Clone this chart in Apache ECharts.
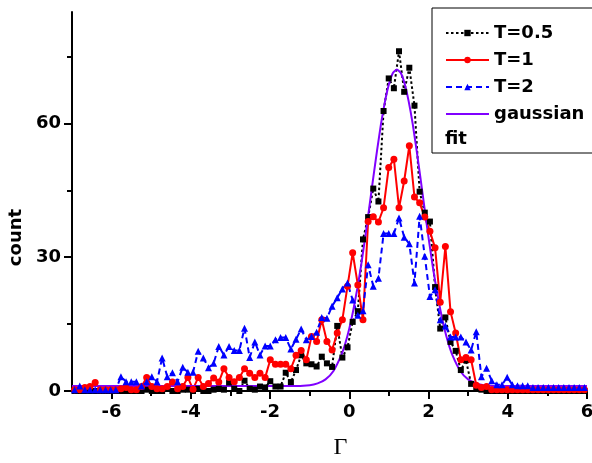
<!DOCTYPE html>
<html><head><meta charset="utf-8">
<script src="https://cdn.jsdelivr.net/npm/echarts@6/dist/echarts.min.js"></script>
<style>html,body{margin:0;padding:0;background:#fff}#c{width:592px;height:463px}</style>
</head><body><div id="c"></div>
<script>
// bin centres (Gamma)
const xBins = [-6.935,-6.805,-6.675,-6.545,-6.415,-6.285,-6.155,-6.025,-5.895,-5.765,
-5.635,-5.505,-5.375,-5.245,-5.115,-4.985,-4.855,-4.725,-4.595,-4.465,
-4.335,-4.205,-4.075,-3.945,-3.815,-3.685,-3.555,-3.425,-3.295,-3.165,
-3.035,-2.905,-2.775,-2.645,-2.515,-2.385,-2.255,-2.125,-1.995,-1.865,
-1.735,-1.605,-1.475,-1.345,-1.215,-1.085,-0.955,-0.825,-0.695,-0.565,
-0.435,-0.305,-0.175,-0.045,0.085,0.215,0.345,0.475,0.605,0.735,
0.865,0.995,1.125,1.255,1.385,1.515,1.645,1.775,1.905,2.035,
2.165,2.295,2.425,2.555,2.685,2.815,2.945,3.075,3.205,3.335,
3.465,3.595,3.725,3.855,3.985,4.115,4.245,4.375,4.505,4.635,
4.765,4.895,5.025,5.155,5.285,5.415,5.545,5.675,5.805,5.935];
// T=0.5 counts
const t05 = [0,0,0,0,0,0,0,0,0,0,
0,0,0,0,0.3,0,0,0,0.5,0,
0,0.3,0.3,0,0.5,0,0,0.3,0.5,0.3,
1.9,0.5,0,2.3,0.5,0.3,1.0,0.8,2.2,1.0,
1.0,4.1,2.0,4.7,8.0,6.2,6.0,5.5,7.7,6.2,
5.4,14.6,7.5,9.8,15.5,17.9,34,39,45.4,42.5,
62.8,70.1,67.9,76.2,67.1,72.5,64,44.7,40,38,
23.3,14,16.5,11,9,4.7,6.9,1.6,0.8,0.3,
0,0,0,0,0,0,0,0,0,0,
0,0,0,0,0,0,0,0,0,0];
// T=1 counts
const t1 = [0.3,0.3,0.8,1.0,1.9,0.3,0.3,0.3,0.3,0.5,
0.8,0.3,0.3,1.0,3.0,1.0,0.5,0.5,1.0,2.0,
0.5,1.0,3.0,0.4,3.0,1.0,1.7,2.9,2.0,5.0,
3.0,2.1,3.0,5.0,4.0,3.0,4.0,3.0,7.0,6.0,
6.0,6.0,5.0,8.0,9.1,7.0,12.2,11.1,16.0,11.1,
9.2,13.0,16.0,23.5,31.0,23.8,16.0,38.0,39.1,37.9,
41.1,50.1,52.0,41.1,47.1,55.0,43.5,42.2,39.0,35.8,
32.1,19.9,32.4,17.8,13.0,7.0,7.5,7.0,1.3,0.8,
1.0,0.3,0.3,0.3,0.3,0.3,0.3,0.3,0.3,0.3,
0.3,0.3,0.3,0.3,0.3,0.3,0.3,0.3,0.3,0.3];
// T=2 counts
const t2 = [0.3,1.1,0.3,0.3,0.3,0.3,0.3,0.3,0.3,3.2,
2.1,2.1,2.1,1.1,2.1,3.2,2.1,7.4,3.2,4.1,
2.1,5.3,4.2,4.2,8.9,7.4,5.2,6.2,10.0,8.1,
10.0,9.1,9.1,14.1,7.5,11.0,8.1,10.1,10.1,11.5,
12.0,12.0,9.4,11.6,13.9,11.5,12.2,13.2,16.5,16.3,
19.0,20.9,22.9,24.2,20.4,17.0,18.0,28.3,23.5,25.3,
35.3,35.3,35.3,38.8,34.5,33.0,24.2,39.2,30.2,21.2,
22.7,16.0,14.6,12.1,12.1,12.1,11.0,9.2,13.3,3.2,
5.1,2.3,1.4,1.4,3.1,1.4,1.2,1.2,1.2,0.8,
0.8,0.8,0.8,0.8,0.8,0.8,0.8,0.8,0.8,0.8];
// gaussian fit curve
const gaussX = [-7,-2,-1.5,-1.0,-0.8,-0.6,-0.4,-0.2,-0.1,0,0.1,0.2,0.3,0.4,0.5,0.6,0.7,0.8,0.9,1.0,1.1,1.2,
1.3,1.4,1.5,1.6,1.7,1.8,1.9,2.0,2.1,2.2,2.3,2.4,2.5,2.6,2.8,3.0,3.2,3.4,3.9,6];
const gaussY = [1.1,1.1,1.1,1.3,1.7,2.6,4.5,8.1,10.7,14.0,18.1,22.9,28.3,34.4,40.9,47.5,53.9,59.9,64.9,68.8,71.3,72.1,
71.3,68.8,64.9,59.9,53.9,47.5,40.9,34.4,28.3,22.9,18.1,14.0,10.7,8.1,4.5,2.6,1.7,1.3,1.1,1.1];
const seriesNames = ['T=0.5','T=1','T=2','gaussian'];
const xTickLabels = [-6,-4,-2,0,2,4,6];
const xMinorTicks = [-5,-3,-1,1,3,5];
const yTickLabels = [0,30,60];
const yMinorTicks = [15,45,75];

const F = 'DejaVu Sans';
const pairs = (xs, ys) => xs.map((x, i) => [x, ys[i]]);
const chart = echarts.init(document.getElementById('c'), null, {renderer: 'canvas'});
const axisBlack = {color: '#000', width: 2};
chart.setOption({
  animation: false,
  backgroundColor: '#fff',
  grid: {left: 72, right: 5, top: 12, bottom: 72, containLabel: false, outerBoundsMode: 'none'},
  xAxis: [{
    type: 'value', min: -7, max: 6,
    axisLine: {onZero: false, lineStyle: axisBlack},
    axisTick: {customValues: xTickLabels, length: 8, lineStyle: axisBlack},
    axisLabel: {customValues: xTickLabels, fontFamily: F, fontWeight: 'bold', fontSize: 18, color: '#000', margin: 12},
    splitLine: {show: false},
    name: 'Γ', nameLocation: 'middle', nameGap: 45,
    nameTextStyle: {fontFamily: 'Liberation Serif', fontSize: 24, color: '#000', padding: [0, 0, 0, 22]}
  }, {
    type: 'value', min: -7, max: 6, position: 'bottom',
    axisLine: {show: false, onZero: false},
    axisTick: {customValues: xMinorTicks, length: 5, lineStyle: axisBlack},
    axisLabel: {show: false}, splitLine: {show: false}
  }],
  yAxis: [{
    type: 'value', min: 0, max: 85,
    axisLine: {show: true, onZero: false, lineStyle: axisBlack},
    axisTick: {show: true, customValues: yTickLabels, length: 8, lineStyle: axisBlack},
    axisLabel: {customValues: yTickLabels, fontFamily: F, fontWeight: 'bold', fontSize: 18, color: '#000', margin: 11},
    splitLine: {show: false},
    name: 'count', nameLocation: 'middle', nameGap: 46,
    nameTextStyle: {fontFamily: F, fontWeight: 'bold', fontSize: 18, color: '#000', padding: [0, 72, 0, 0]}
  }, {
    type: 'value', min: 0, max: 85, position: 'left',
    axisLine: {show: false, onZero: false},
    axisTick: {show: true, customValues: yMinorTicks, length: 5, lineStyle: axisBlack},
    axisLabel: {show: false}, splitLine: {show: false}
  }],
  legend: {
    orient: 'vertical', left: 432, top: 8,
    itemWidth: 43, itemHeight: 8, itemGap: 9, itemTextGap: 0,
    padding: [16, 10, 30, 13],
    borderColor: '#000', borderWidth: 1, backgroundColor: '#fff',
    textStyle: {fontFamily: F, fontWeight: 'bold', fontSize: 18, color: '#000'},
    data: [seriesNames[0], seriesNames[1], seriesNames[2],
      {name: seriesNames[3], icon: 'path://M0,0L43,0L43,2L0,2Z', itemStyle: {color: '#8000ff'}}]
  },
  graphic: [{
    type: 'text', left: 445, top: 130, z: 100,
    style: {text: 'fit', font: 'bold 18px "DejaVu Sans"', fill: '#000'}
  }],
  series: [{
    name: seriesNames[0], type: 'line', data: pairs(xBins, t05),
    symbol: 'rect', symbolSize: 6,
    lineStyle: {color: '#000', width: 2, type: [2.5, 2.5]},
    itemStyle: {color: '#000'}
  }, {
    name: seriesNames[1], type: 'line', data: pairs(xBins, t1),
    symbol: 'circle', symbolSize: 7,
    lineStyle: {color: '#ff0000', width: 2},
    itemStyle: {color: '#ff0000'}
  }, {
    name: seriesNames[2], type: 'line', data: pairs(xBins, t2),
    symbol: 'triangle', symbolSize: 7,
    lineStyle: {color: '#0000ff', width: 2, type: [6, 4]},
    itemStyle: {color: '#0000ff'}
  }, {
    name: seriesNames[3], type: 'line', data: pairs(gaussX, gaussY),
    symbol: 'none', smooth: 0.2,
    lineStyle: {color: '#8000ff', width: 2},
    itemStyle: {color: '#8000ff'}
  }]
});
</script></body></html>
